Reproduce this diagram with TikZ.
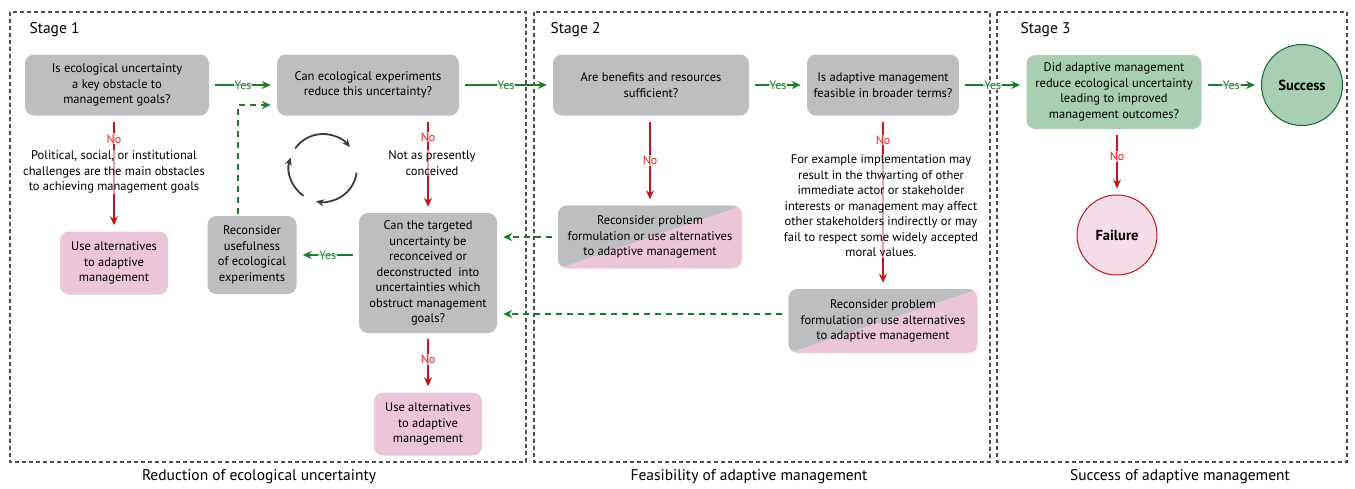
\documentclass[tikz,border=0pt]{standalone}
\usepackage{fontspec}
\setmainfont{PT Sans}
\usetikzlibrary{arrows.meta}

\definecolor{boxgray}{HTML}{BCBEC0}
\definecolor{boxpink}{HTML}{ECC5D8}
\definecolor{boxgreen}{HTML}{A8CFB1}
\definecolor{okgreen}{HTML}{1D7A2E}
\definecolor{nored}{HTML}{C0161C}
\definecolor{nolabel}{HTML}{E2231A}
\definecolor{stageline}{HTML}{4D4D4F}
\definecolor{cycgray}{HTML}{3C3C3E}

\tikzset{
  q/.style={rectangle, rounded corners=9pt, fill=boxgray, align=center, inner sep=2pt,
    font=\fontsize{12.5}{15.5}\selectfont},
  alt/.style={q, fill=boxpink},
  split/.style={q, fill=boxpink, path picture={
    \fill[boxgray] (path picture bounding box.south west) -- (path picture bounding box.north west)
      -- (path picture bounding box.north east) -- cycle;}},
  note/.style={align=center, fill=white, fill opacity=0.6, text opacity=1, inner sep=1pt,
    font=\fontsize{12.5}{15.5}\selectfont},
  stage/.style={draw=stageline, dash pattern=on 4pt off 3pt, line width=1.4pt},
  yes/.style={draw=okgreen, line width=1.8pt, -{Stealth[length=9pt,width=8pt]}, shorten <=6pt, shorten >=6pt},
  no/.style={draw=nored, line width=1.8pt, -{Stealth[length=9pt,width=8pt]}, shorten <=6pt, shorten >=6pt},
  back/.style={yes, dash pattern=on 6pt off 5pt},
  yeslbl/.style={fill=white, fill opacity=0.7, text opacity=1, inner sep=1pt, text=okgreen,
    font=\fontsize{12}{14}\selectfont},
  nolbl/.style={yeslbl, text=nolabel},
  title/.style={font=\fontsize{15.5}{18}\selectfont},
  cyc/.style={draw=cycgray, line width=1.8pt, -{Stealth[length=8pt,width=7pt]}},
}

\begin{document}
\begin{tikzpicture}
  \begin{scope}[x=1pt,y=-1pt]
  \useasboundingbox (0,0) rectangle (1355,488);
  % cadres des trois etapes
  \draw[stage] (10,12) rectangle (526,462);
  \draw[stage] (534,12) rectangle (990,462);
  \draw[stage] (997,12) rectangle (1347,462);
  \node (t1) at (26,30) [title, anchor=west] {Stage 1};
  \node (t2) at (547,30) [title, anchor=west] {Stage 2};
  \node (t3) at (1017,30) [title, anchor=west] {Stage 3};
  \node (b1) at (259,477) [title] {Reduction of ecological uncertainty};
  \node (b2) at (749,477) [title] {Feasibility of adaptive management};
  \node (b3) at (1180,477) [title] {Success of adaptive management};

  % description et nommage des noeuds
  \node (q1) at (117,85) [q, minimum width=184pt, minimum height=61pt]
    {Is ecological uncertainty\\a key obstacle to\\management goals?};
  \node (q2) at (368,85) [q, minimum width=182pt, minimum height=61pt]
    {Can ecological experiments\\reduce this uncertainty?};
  \node (q3) at (651,85) [q, minimum width=196pt, minimum height=61pt]
    {Are benefits and resources\\sufficient?};
  \node (q4) at (883,85) [q, minimum width=152pt, minimum height=61pt]
    {Is adaptive management\\feasible in broader terms?};
  \node (q5) at (1114,92) [q, fill=boxgreen, minimum width=175pt, minimum height=74pt]
    {Did adaptive management\\reduce ecological uncertainty\\leading to improved\\management outcomes?};
  \node (ok) at (1302,85) [circle, draw=okgreen!80!black, line width=1pt, fill=boxgreen,
    minimum size=81pt, font=\fontsize{14.5}{16}\selectfont\bfseries] {Success};
  \node (ko) at (1117,235) [circle, draw=nored, line width=1pt, fill=boxpink!60!white,
    minimum size=80pt, font=\fontsize{14.5}{16}\selectfont\bfseries] {Failure};
  \node (a1) at (114,263) [alt, minimum width=108pt, minimum height=63pt]
    {Use alternatives\\to adaptive\\management};
  \node (r1) at (252,255) [q, minimum width=89pt, minimum height=78pt]
    {Reconsider\\usefulness\\of ecological\\experiments};
  \node (q6) at (428,273) [q, minimum width=138pt, minimum height=120pt]
    {Can the targeted\\uncertainty be\\reconceived or\\deconstructed\ \ into\\uncertainties which\\obstruct management\\goals?};
  \node (a2) at (428,424) [alt, minimum width=108pt, minimum height=63pt]
    {Use alternatives\\to adaptive\\management};
  \node (s1) at (650,237) [split, minimum width=184pt, minimum height=63pt]
    {Reconsider problem\\formulation or use alternatives\\to adaptive management};
  \node (s2) at (883,321) [split, minimum width=189pt, minimum height=64pt]
    {Reconsider problem\\formulation or use alternatives\\to adaptive management};

  % fleches
  \draw[yes] (q1) -- node[yeslbl] {Yes} (q2);
  \draw[yes] (q2) -- node[yeslbl] {Yes} (q3);
  \draw[yes] (q3) -- node[yeslbl] {Yes} (q4);
  \draw[yes] (q4.east) -- node[yeslbl] {Yes} (q4.east -| q5.west);
  \draw[yes] (q5.east |- ok) -- node[yeslbl] {Yes} (ok);
  \draw[yes] (q6.west |- r1) -- node[yeslbl] {Yes} (r1.east);
  \draw[no] (q1.south -| a1) -- node[nolbl, pos=0.2] {No} (a1);
  \draw[no] (q2.south -| q6) -- node[nolbl, pos=0.22] {No} (q6);
  \draw[no] (q6) -- node[nolbl, pos=0.45] {No} (a2);
  \draw[no] (q3.south -| s1) -- node[nolbl] {No} (s1);
  \draw[no] (q4.south -| s2) -- node[nolbl, pos=0.14] {No} (s2);
  \draw[no] (q5.south -| ko) -- node[nolbl, pos=0.42] {No} (ko);
  \coordinate (c1) at (238,105);
  \draw[back, shorten <=2pt] (r1.north -| c1) -- (c1) -- (c1 -| q2.west);
  \draw[back] (s1.west) -- (s1.west -| q6.east);
  \draw[back] ([yshift=7pt]s2.west) -- ([yshift=7pt]s2.west -| q6.east);

  % textes sur les fleches
  \node (n1) at (114,172) [note]
    {Political, social, or institutional\\challenges are the main obstacles\\to achieving management goals};
  \node (n2) at (432,163) [note] {Not as presently\\conceived};
  \node (n3) at (881,206) [note]
    {For example implementation may\\result in the thwarting of other\\immediate actor or stakeholder\\interests or management may affect\\other stakeholders indirectly or may\\fail to respect some widely accepted\\moral values.};
  \end{scope}

  % cycle
  \begin{scope}[shift={(323pt,-168pt)}, x=1pt, y=1pt]
  \draw[cyc] (145:34) arc[start angle=145, end angle=38, radius=34];
  \draw[cyc] (-8:34) arc[start angle=-8, end angle=-102, radius=34];
  \draw[cyc] (235:34) arc[start angle=235, end angle=162, radius=34];
  \end{scope}
\end{tikzpicture}
\end{document}
